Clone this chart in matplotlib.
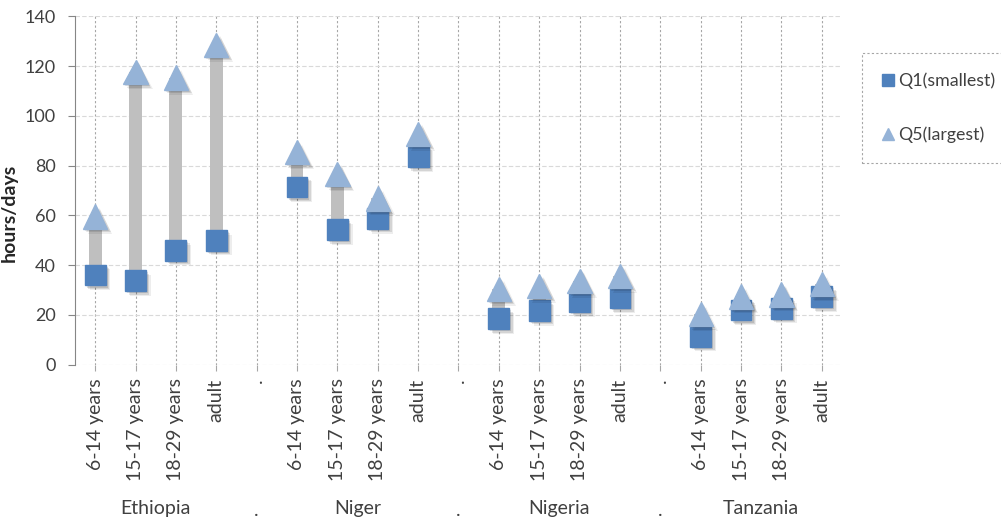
import numpy as np
import matplotlib
matplotlib.use('Agg')
import matplotlib.pyplot as plt
import matplotlib.patheffects as pe
from matplotlib.lines import Line2D

countries = ['Ethiopia', 'Niger', 'Nigeria', 'Tanzania']
ages = ['6-14 years', '15-17 years', '18-29 years', 'adult']

q1_ethiopia = [36.0, 33.7, 46.0, 50.0]
q1_niger = [71.4, 54.2, 58.7, 83.5]
q1_nigeria = [18.4, 21.7, 25.2, 26.9]
q1_tanzania = [11.4, 21.9, 22.7, 27.3]

q5_ethiopia = [59.5, 117.6, 115.4, 128.6]
q5_niger = [85.5, 76.6, 66.8, 92.8]
q5_nigeria = [30.5, 31.7, 33.7, 35.7]
q5_tanzania = [20.3, 27.4, 28.2, 32.3]

q1_all = [q1_ethiopia, q1_niger, q1_nigeria, q1_tanzania]
q5_all = [q5_ethiopia, q5_niger, q5_nigeria, q5_tanzania]

plt.rcParams['font.family'] = ['Lato', 'DejaVu Sans']

SQ_COL = '#4F81BD'
TRI_COL = '#95B3D7'
BAR_COL = '#BFBFBF'
TXT_COL = '#404040'

fig = plt.figure(figsize=(10.01, 5.22), dpi=100)
ax = fig.add_axes([0.0749, 0.3017, 0.7662, 0.6667])

# category slots: 4 ages per country, one '.' slot between countries
n_slots = len(countries) * (len(ages) + 1) - 1
pos, q1, q5 = [], [], []
for g in range(len(countries)):
    for j in range(len(ages)):
        pos.append(g * (len(ages) + 1) + j)
        q1.append(q1_all[g][j])
        q5.append(q5_all[g][j])
pos = np.array(pos)
q1 = np.array(q1)
q5 = np.array(q5)

labels = []
for g in range(len(countries)):
    labels += ages
    if g < len(countries) - 1:
        labels.append('.')

shadow = [pe.SimplePatchShadow(offset=(1.5, -1.5), shadow_rgbFace='black', alpha=0.12),
          pe.SimplePatchShadow(offset=(2.5, -2.5), shadow_rgbFace='black', alpha=0.10),
          pe.SimplePatchShadow(offset=(3.5, -3.5), shadow_rgbFace='black', alpha=0.07),
          pe.Normal()]

ax.bar(pos, q5 - q1, bottom=q1, width=0.32, color=BAR_COL, zorder=2)
ax.plot(pos, q1, ls='none', marker='s', ms=15, color=SQ_COL, mec=SQ_COL,
        zorder=3, path_effects=shadow)
ax.plot(pos, q5, ls='none', marker='^', ms=17.5, color=TRI_COL, mec=TRI_COL,
        zorder=4, path_effects=shadow)

ax.set_xlim(-0.5, n_slots - 0.5)
ax.set_ylim(0, 140)
ax.set_yticks(np.arange(0, 141, 20))
ax.set_xticks(np.arange(n_slots))
ax.set_xticklabels(labels, rotation=90, fontsize=14, color=TXT_COL)
ax.tick_params(axis='y', labelsize=13, colors=TXT_COL, length=5, pad=9, color='#868686')
ax.tick_params(axis='x', length=4, pad=6, color='#A6A6A6')

ax.set_axisbelow(True)
ax.grid(axis='y', color='#D9D9D9', ls=(0, (4, 2)), lw=0.8)
ax.grid(axis='x', color='#A6A6A6', ls=(0, (2, 2)), lw=0.8)
for s in ['top', 'right', 'bottom']:
    ax.spines[s].set_visible(False)
ax.spines['left'].set_color('#868686')

ax.set_ylabel('hours/days', fontsize=14, fontweight='bold', color='#262626')
ax.yaxis.set_label_coords(-0.074, 0.435)

# country names under the age labels
for g, c in enumerate(countries):
    cx = g * (len(ages) + 1) + (len(ages) - 1) / 2
    ax.text(cx, -0.415, c, transform=ax.get_xaxis_transform(), ha='center', va='center',
            fontsize=14, color=TXT_COL)
    if g < len(countries) - 1:
        ax.text(g * (len(ages) + 1) + len(ages), -0.42, '.', transform=ax.get_xaxis_transform(),
                ha='center', va='center', fontsize=14, color=TXT_COL)

handles = [Line2D([], [], ls='none', marker='s', ms=8, color=SQ_COL),
           Line2D([], [], ls='none', marker='^', ms=8, color=TRI_COL)]
leg = fig.legend(handles, ['Q1(smallest)', 'Q5(largest)'], loc='upper left',
                 bbox_to_anchor=(862 / 1001, 1 - 53 / 522), fontsize=12.8, labelcolor=TXT_COL,
                 labelspacing=2.1, handlelength=0.7, handletextpad=0.25, borderpad=1.1,
                 borderaxespad=0, fancybox=False, framealpha=1)
leg.get_frame().set_edgecolor('#A6A6A6')
leg.get_frame().set_linestyle((0, (2, 2)))
leg.get_frame().set_linewidth(0.8)

fig.savefig('out.png', dpi=100)
